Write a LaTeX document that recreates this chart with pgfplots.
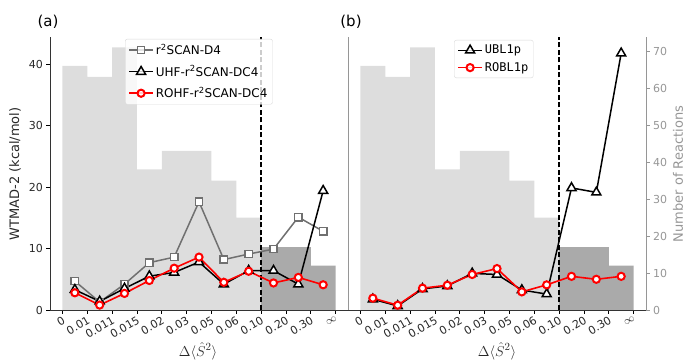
\documentclass[border=0pt]{standalone}
\usepackage{pgfplots}
\pgfplotsset{compat=1.18}
\usepackage{fontspec}
\setmainfont{DejaVu Sans}
\setmonofont{DejaVu Sans Mono}
\definecolor{barlight}{RGB}{221,221,221}
\definecolor{bardark}{RGB}{170,170,170}
\definecolor{sqgray}{RGB}{112,112,112}
\definecolor{axgray}{RGB}{150,150,150}
\definecolor{txt}{RGB}{40,40,40}
\newcommand{\tickfont}{\fontsize{11bp}{13bp}\selectfont}
\newcommand{\legfont}{\fontsize{12bp}{14bp}\selectfont}
\newcommand{\labfont}{\fontsize{13bp}{15bp}\selectfont}
\newcommand{\xlabfont}{\fontsize{15bp}{17bp}\selectfont}
\newcommand{\titfont}{\fontsize{15bp}{18bp}\selectfont}
\pgfplotsset{
  base/.style={
    scale only axis, width=298bp, height=273bp,
    xmin=-0.5, xmax=11.5, ymin=0,
    /pgf/number format/assume math mode=true,
    tick align=outside, major tick length=3.5bp,
    every tick/.style={line width=0.8bp},
    ticklabel style={font=\tickfont, text=txt},
  },
  xcats/.style={
    xtick={0,...,11},
    xticklabels={0,0.01,0.011,0.015,0.02,0.03,0.05,0.06,0.10,0.20,0.30,$\infty$},
    x tick label style={rotate=30, anchor=north east, inner sep=1.5bp},
  },
  leg/.style={
    legend cell align=left,
    legend style={draw=black!15, fill=white, fill opacity=0.8, text opacity=1,
      rounded corners=2bp, inner xsep=3bp, inner ysep=3bp, row sep=5.5bp,
      /tikz/every even column/.append style={column sep=2bp}},
    legend image code/.code={\draw[mark repeat=2, mark phase=2] plot coordinates {(0bp,0bp)(12bp,0bp)(24bp,0bp)};},
  },
  sq/.style={sqgray, line width=1.5bp, mark=square*, mark size=3.6bp, mark options={fill=white, draw=sqgray, line width=1.5bp, solid}},
  tri/.style={black, line width=1.5bp, mark=triangle*, mark size=5.2bp, mark options={fill=white, draw=black, line width=1.5bp, solid}},
  circ/.style={red, line width=1.6bp, mark=*, mark size=3.6bp, mark options={fill=white, draw=red, line width=2bp, solid}},
  vdash/.style={black, line width=1.4bp, dash pattern=on 5bp off 2.5bp, forget plot},
}
\pgfplotstableread{
x   d4    uhf   rohf  ubl   robl
0.5 4.7   3.3   2.8   2.9   3.2
1.5 1.3   1.4   0.8   1.1   1.3
2.5 4.2   3.5   2.7   5.7   5.9
3.5 7.7   5.5   4.8   6.5   6.7
4.5 8.6   6.1   6.8   9.9   9.6
5.5 17.6  7.8   8.6   9.6   11.2
6.5 8.2   4.2   4.5   5.4   4.9
7.5 9.1   6.4   6.3   4.3   6.8
8.5 9.9   6.4   4.4   33.0  9.1
9.5 15.1  4.2   5.3   31.8  8.3
10.5 12.8 19.4  4.1   69.4  9.1
}\lines
\begin{document}
\begin{tikzpicture}
\path[use as bounding box] (0,0) rectangle (685bp,360bp);
% ---------- panel (a) histogram ----------
\begin{axis}[base, at={(50bp,50bp)}, anchor=south west, ymax=73.8, hide axis]
\addplot[const plot, fill=barlight, draw=none] coordinates {(0,66)(1,63)(2,71)(3,38)(4,43)(5,43)(6,35)(7,25)(8,25)} \closedcycle;
\addplot[const plot, fill=bardark, draw=none] coordinates {(8,17)(9,17)(10,12)(11,12)} \closedcycle;
\end{axis}
% ---------- panel (a) lines ----------
\begin{axis}[base, xcats, leg, at={(50bp,50bp)}, anchor=south west, ymax=44.4,
  separate axis lines, axis x line*=bottom, axis y line*=left,
  x axis line style={-, black!80, line width=0.8bp}, y axis line style={-, black!80, line width=0.8bp},
  ytick={0,10,20,30,40},
  legend style={at={(0.252,0.993)}, anchor=north west, font=\legfont}]
\addplot[vdash] coordinates {(8,0)(8,44.4)};
\addplot[sq] table[x=x, y=d4] {\lines};
\addlegendentry{r\textsuperscript{2}SCAN-D4}
\addplot[tri] table[x=x, y=uhf] {\lines};
\addlegendentry{UHF-r\textsuperscript{2}SCAN-DC4}
\addplot[circ] table[x=x, y=rohf] {\lines};
\addlegendentry{ROHF-r\textsuperscript{2}SCAN-DC4}
\end{axis}
% ---------- panel (b) histogram ----------
\begin{axis}[base, at={(348bp,50bp)}, anchor=south west, ymax=73.8,
  axis x line=none, axis y line*=right,
  y axis line style={-, axgray, line width=0.8bp},
  ytick={0,10,...,70}, yticklabel style={text=axgray}, y tick style={axgray}]
\addplot[const plot, fill=barlight, draw=none] coordinates {(0,66)(1,63)(2,71)(3,38)(4,43)(5,43)(6,35)(7,25)(8,25)} \closedcycle;
\addplot[const plot, fill=bardark, draw=none] coordinates {(8,17)(9,17)(10,12)(11,12)} \closedcycle;
\end{axis}
% ---------- panel (b) lines ----------
\begin{axis}[base, xcats, leg, at={(348bp,50bp)}, anchor=south west, ymax=73.8,
  separate axis lines, axis x line*=bottom, axis y line*=left,
  x axis line style={-, black!80, line width=0.8bp}, y axis line style={-, axgray, line width=0.8bp},
  ytick=\empty,
  legend style={at={(0.356,0.989)}, anchor=north west, font=\legfont\ttfamily, row sep=3bp}]
\addplot[vdash] coordinates {(8,0)(8,73.8)};
\addplot[tri] table[x=x, y=ubl] {\lines};
\addlegendentry{UBL1p}
\addplot[circ] table[x=x, y=robl] {\lines};
\addlegendentry{ROBL1p}
\end{axis}
% ---------- labels ----------
\node[rotate=90, font=\labfont, text=txt] at (15bp,186bp) {WTMAD-2 (kcal/mol)};
\node[rotate=90, font=\labfont, text=axgray] at (678bp,186bp) {Number of Reactions};
\node[font=\xlabfont, text=txt, inner sep=0pt] at (198bp,9bp) {$\Delta\langle\hat{S}^2\rangle$};
\node[font=\xlabfont, text=txt, inner sep=0pt] at (497bp,9bp) {$\Delta\langle\hat{S}^2\rangle$};
\node[font=\titfont] at (48bp,338bp) {(a)};
\node[font=\titfont] at (351bp,338bp) {(b)};
\end{tikzpicture}
\end{document}
